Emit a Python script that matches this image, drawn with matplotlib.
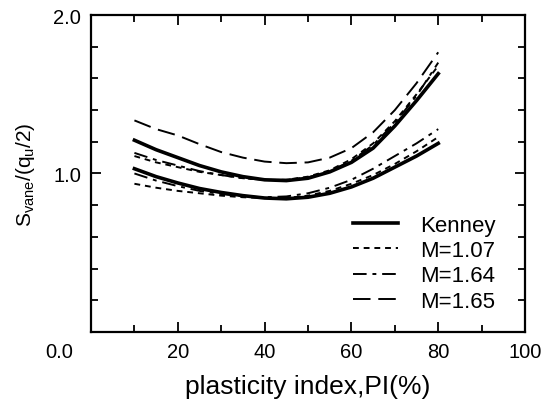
import matplotlib
matplotlib.use('Agg')
import matplotlib.pyplot as plt
from matplotlib.ticker import MultipleLocator

plt.rcParams['font.family'] = ['Liberation Sans', 'DejaVu Sans']
plt.rcParams['mathtext.default'] = 'regular'

# data
pi = [10, 15, 20, 25, 30, 35, 40, 45, 50, 55, 60, 65, 70, 75, 80]

kenney_up = [1.21, 1.15, 1.10, 1.05, 1.01, 0.98, 0.96, 0.955, 0.97, 1.01, 1.07, 1.16, 1.30, 1.46, 1.63]
kenney_lo = [1.03, 0.98, 0.94, 0.905, 0.88, 0.86, 0.845, 0.84, 0.85, 0.875, 0.915, 0.97, 1.04, 1.11, 1.19]
m107_up = [1.11, 1.07, 1.04, 1.01, 0.99, 0.97, 0.96, 0.96, 0.98, 1.02, 1.09, 1.19, 1.33, 1.50, 1.68]
m107_lo = [0.935, 0.91, 0.89, 0.875, 0.86, 0.85, 0.845, 0.845, 0.86, 0.89, 0.935, 0.99, 1.06, 1.14, 1.23]
m164_up = [1.13, 1.085, 1.05, 1.015, 0.99, 0.97, 0.96, 0.96, 0.975, 1.015, 1.08, 1.18, 1.32, 1.49, 1.70]
m164_lo = [1.00, 0.955, 0.92, 0.89, 0.87, 0.855, 0.85, 0.855, 0.875, 0.91, 0.96, 1.03, 1.11, 1.19, 1.28]
m165 = [1.335, 1.28, 1.24, 1.185, 1.135, 1.10, 1.075, 1.065, 1.07, 1.10, 1.16, 1.26, 1.40, 1.57, 1.765]

fig = plt.figure(figsize=(5.55, 4.02), dpi=100)
ax = fig.add_axes([0.164, 0.172, 0.782, 0.788])

dot = (0, (3, 2.5))
dashdot = (0, (7, 3, 2, 3))
dash = (0, (9, 4))

ax.plot(pi, kenney_up, 'k-', lw=2.6, label='Kenney')
ax.plot(pi, kenney_lo, 'k-', lw=2.6)
ax.plot(pi, m107_up, color='k', ls=dot, lw=1.4, label='M=1.07')
ax.plot(pi, m107_lo, color='k', ls=dot, lw=1.4)
ax.plot(pi, m164_up, color='k', ls=dashdot, lw=1.4, label='M=1.64')
ax.plot(pi, m164_lo, color='k', ls=dashdot, lw=1.4)
ax.plot(pi, m165, color='k', ls=dash, lw=1.4, label='M=1.65')

ax.set_xlim(0, 100)
ax.set_ylim(0, 2.0)
ax.xaxis.set_major_locator(MultipleLocator(20))
ax.xaxis.set_minor_locator(MultipleLocator(10))
ax.yaxis.set_major_locator(MultipleLocator(1.0))
ax.yaxis.set_minor_locator(MultipleLocator(0.2))
ax.xaxis.set_major_formatter(plt.FuncFormatter(lambda v, p: '%d' % v if v > 0 else ''))
ax.yaxis.set_major_formatter(plt.FuncFormatter(lambda v, p: '%.1f' % v if v > 0 else ''))

ax.tick_params(which='both', direction='in', top=True, right=True, width=1.3, labelsize=14.5, pad=7)
ax.tick_params(which='major', length=7)
ax.tick_params(which='minor', length=5)
for s in ax.spines.values():
    s.set_linewidth(1.6)

# shared corner label
ax.annotate('0.0', xy=(0, 0), xycoords='axes fraction', xytext=(-18, -10),
            textcoords='offset pixels', ha='right', va='top', fontsize=14.5)

ax.set_xlabel('plasticity index,PI(%)', fontsize=19, labelpad=10)
ax.set_ylabel('S$_{vane}$/(q$_{u}$/2)', fontsize=15, labelpad=12)

ax.legend(loc='lower left', frameon=False, fontsize=16, handlelength=2.0,
          labelspacing=0.2, handletextpad=1.0, bbox_to_anchor=(0.558, 0.0))

fig.savefig('out.png', dpi=100)
